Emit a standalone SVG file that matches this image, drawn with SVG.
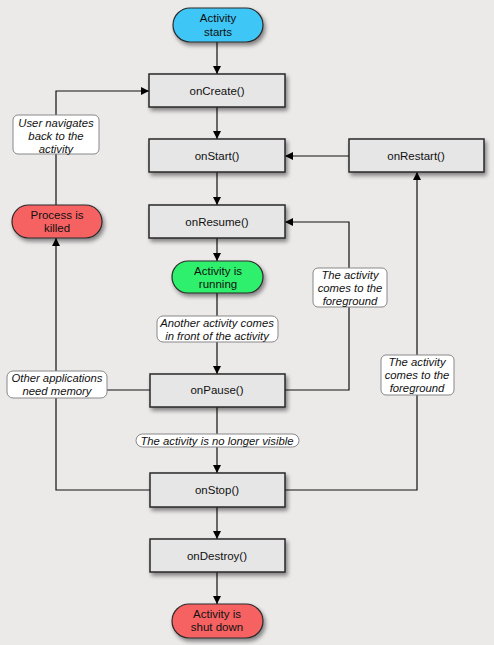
<svg xmlns="http://www.w3.org/2000/svg" width="494" height="645" viewBox="0 0 494 645">
<defs>
<filter id="sh" x="-20%" y="-20%" width="150%" height="170%">
<feGaussianBlur in="SourceAlpha" stdDeviation="2"/>
<feOffset dx="2" dy="3" result="b"/>
<feComponentTransfer><feFuncA type="linear" slope="0.45"/></feComponentTransfer>
<feMerge><feMergeNode/><feMergeNode in="SourceGraphic"/></feMerge>
</filter>
<marker id="ah" viewBox="0 0 10 10" refX="10" refY="5" markerWidth="8" markerHeight="8" markerUnits="userSpaceOnUse" orient="auto">
<path d="M0,0 L10,5 L0,10 z" fill="#000"/>
</marker>
<style>
.box{fill:#e6e6e6;stroke:#2a2a2a;stroke-width:1.5}
.pill{stroke:#2a2a2a;stroke-width:1.2}
.t{font-family:"Liberation Sans",Arial,sans-serif;font-size:11.5px;fill:#111;text-anchor:middle}
.lbl{fill:#fff;stroke:#888;stroke-width:1}
.li{font-family:"Liberation Sans",Arial,sans-serif;font-size:11.3px;font-style:italic;fill:#111;text-anchor:middle}
.c{fill:none;stroke:#111;stroke-width:1.2}
</style>
</defs>
<rect width="494" height="645" fill="#ece9e9"/>
<g id="connectors">
<path class="c" d="M217,42 V74" marker-end="url(#ah)"/>
<path class="c" d="M217,107 V139" marker-end="url(#ah)"/>
<path class="c" d="M217,172 V205" marker-end="url(#ah)"/>
<path class="c" d="M217,238 V261" marker-end="url(#ah)"/>
<path class="c" d="M217,293 V374" marker-end="url(#ah)"/>
<path class="c" d="M217,407 V473" marker-end="url(#ah)"/>
<path class="c" d="M217,507 V539" marker-end="url(#ah)"/>
<path class="c" d="M217,572 V604" marker-end="url(#ah)"/>
<path class="c" d="M349,156 H285" marker-end="url(#ah)"/>
<path class="c" d="M285,390 H349 V222 H285" marker-end="url(#ah)"/>
<path class="c" d="M285,490 H417 V172" marker-end="url(#ah)"/>
<path class="c" d="M150,490 H56 V238" marker-end="url(#ah)"/>
<path class="c" d="M150,390 H56"/>
<path class="c" d="M56,205 V91 H149" marker-end="url(#ah)"/>
</g>
<g id="start"><rect class="pill" x="173" y="8" width="90" height="34" rx="17" fill="#3ec6f6" filter="url(#sh)"/><text class="t" x="218" y="22">Activity</text><text class="t" x="218" y="36">starts</text></g>
<g id="onCreate"><rect class="box" x="149" y="74" width="136" height="33" filter="url(#sh)"/><text class="t" x="217" y="95">onCreate()</text></g>
<g id="onStart"><rect class="box" x="149" y="139" width="136" height="33" filter="url(#sh)"/><text class="t" x="217" y="160">onStart()</text></g>
<g id="onRestart"><rect class="box" x="349" y="139" width="135" height="33" filter="url(#sh)"/><text class="t" x="416" y="160">onRestart()</text></g>
<g id="onResume"><rect class="box" x="149" y="205" width="136" height="33" filter="url(#sh)"/><text class="t" x="217" y="226">onResume()</text></g>
<g id="running"><rect class="pill" x="172" y="261" width="91" height="32" rx="16" fill="#2ff06c" filter="url(#sh)"/><text class="t" x="218" y="275">Activity is</text><text class="t" x="218" y="288">running</text></g>
<g id="onPause"><rect class="box" x="150" y="374" width="135" height="33" filter="url(#sh)"/><text class="t" x="217" y="394">onPause()</text></g>
<g id="onStop"><rect class="box" x="150" y="473" width="135" height="34" filter="url(#sh)"/><text class="t" x="217" y="494">onStop()</text></g>
<g id="onDestroy"><rect class="box" x="150" y="539" width="135" height="33" filter="url(#sh)"/><text class="t" x="217" y="560">onDestroy()</text></g>
<g id="shutdown"><rect class="pill" x="172" y="604" width="91" height="34" rx="17" fill="#f66262" filter="url(#sh)"/><text class="t" x="217" y="618">Activity is</text><text class="t" x="217" y="631">shut down</text></g>
<g id="killed"><rect class="pill" x="12" y="205" width="90" height="33" rx="16.5" fill="#f66262" filter="url(#sh)"/><text class="t" x="57" y="219">Process is</text><text class="t" x="57" y="232">killed</text></g>
<g id="lbl-user"><rect class="lbl" x="13" y="115" width="86" height="39" rx="5"/><text class="li" x="56" y="127">User navigates</text><text class="li" x="56" y="140">back to the</text><text class="li" x="56" y="153">activity</text></g>
<g id="lbl-fg1"><rect class="lbl" x="313" y="268" width="74" height="39" rx="5"/><text class="li" x="350" y="279">The activity</text><text class="li" x="350" y="292">comes to the</text><text class="li" x="350" y="305">foreground</text></g>
<g id="lbl-another"><rect class="lbl" x="157" y="316" width="121" height="26" rx="6"/><text class="li" x="217" y="327">Another activity comes</text><text class="li" x="217" y="340">in front of the activity</text></g>
<g id="lbl-memory"><rect class="lbl" x="7" y="371" width="100" height="27" rx="6"/><text class="li" x="57" y="382">Other applications</text><text class="li" x="57" y="395">need memory</text></g>
<g id="lbl-fg2"><rect class="lbl" x="381" y="355" width="73" height="40" rx="5"/><text class="li" x="417" y="366">The activity</text><text class="li" x="417" y="379">comes to the</text><text class="li" x="417" y="392">foreground</text></g>
<g id="lbl-visible"><rect class="lbl" x="136" y="434" width="163" height="13" rx="6.5"/><text class="li" x="217" y="444.5">The activity is no longer visible</text></g>
</svg>
